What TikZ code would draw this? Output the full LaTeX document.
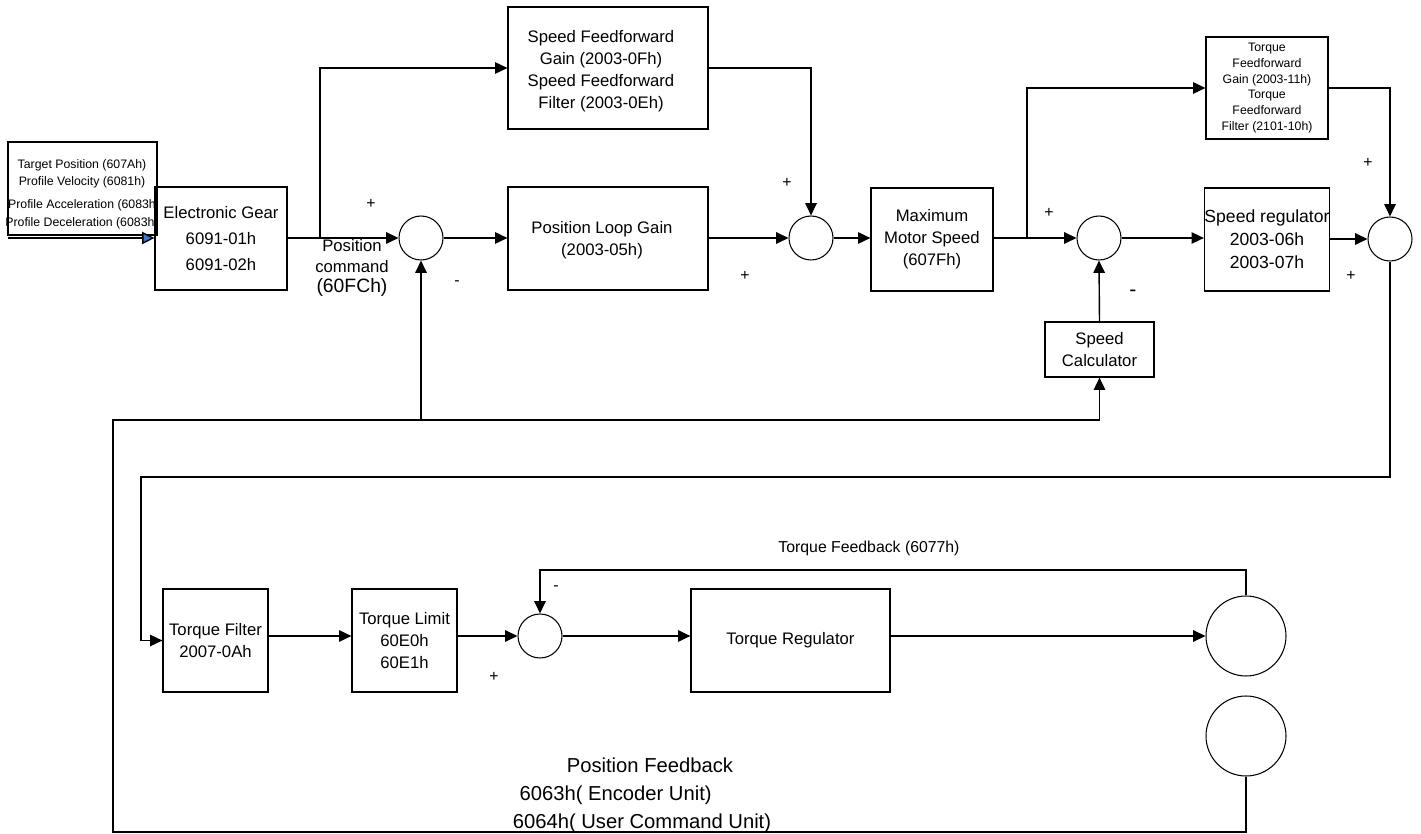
\documentclass[tikz,border=0pt]{standalone}
\usepackage{fontspec}
\setmainfont{Liberation Sans}
\usetikzlibrary{arrows.meta}

\definecolor{arrowblue}{RGB}{68,114,196}

\tikzset{
  box/.style={draw, line width=0.7pt, align=center, inner sep=0pt,
              font=\fontsize{9.5}{12.5}\selectfont},
  boxtext/.style={align=center, inner sep=0pt, font=\fontsize{9.5}{12.5}\selectfont},
  sumnode/.style={draw, circle, line width=0.6pt, inner sep=0pt, minimum size=0.88cm},
  motor/.style={draw, circle, line width=0.6pt, inner sep=0pt, minimum size=1.6cm},
  sig/.style={line width=0.8pt},
  arr/.style={sig, -{Triangle[length=7pt,width=6.5pt]}},
  sgn/.style={font=\fontsize{9}{10}\selectfont, inner sep=0pt},
  smalltext/.style={align=center, inner sep=0pt, font=\fontsize{7}{10}\selectfont}
}

\begin{document}
\begin{tikzpicture}[x=0.02cm, y=-0.02cm]
\useasboundingbox (0,0) rectangle (1421,834);

% upper row
\node[draw, line width=0.7pt, minimum width=2.98cm, minimum height=1.86cm] (inbox) at (82.5,188.5) {};
\node[smalltext] at (82,194) {Target Position (607Ah)\\Profile Velocity (6081h)\\[3pt]Profile Acceleration (6083h\\Profile Deceleration (6083h)};
\node[box, minimum width=2.64cm, minimum height=2.06cm, font=\fontsize{9.5}{14.7}\selectfont] (eg) at (221,238.5) {Electronic Gear\\6091-01h\\6091-02h};
\node[sumnode] (s1) at (421,238) {};
\node[box, minimum width=4cm, minimum height=2.44cm] (sff) at (608,68) {};
\node[boxtext] at (601,71) {Speed Feedforward\\Gain (2003-0Fh)\\Speed Feedforward\\Filter (2003-0Eh)};
\node[box, minimum width=4cm, minimum height=2.06cm] (plg) at (608,238.5) {};
\node[boxtext] at (602,240) {Position Loop Gain\\(2003-05h)};
\node[sumnode] (s2) at (811,238) {};
\node[box, minimum width=2.44cm, minimum height=2.06cm] (mms) at (932,239.5) {Maximum\\Motor Speed\\(607Fh)};
\node[sumnode] (s3) at (1099,238) {};
\node[box, minimum width=2.44cm, minimum height=2.04cm, font=\fontsize{7}{9}\selectfont] (tff) at (1267,88) {Torque\\Feedforward\\Gain (2003-11h)\\Torque\\Feedforward\\Filter (2101-10h)};
\node[box, minimum width=2.44cm, minimum height=2.06cm, font=\fontsize{10}{13}\selectfont] (sr) at (1267,239.5) {Speed regulator\\2003-06h\\2003-07h};
\node[sumnode] (s4) at (1390,239) {};
\node[box, minimum width=2.18cm, minimum height=1.1cm] (sc) at (1099.5,349.5) {Speed\\Calculator};

% lower row
\node[box, minimum width=2.1cm, minimum height=2.06cm] (tf) at (215.5,640.5) {Torque Filter\\2007-0Ah};
\node[box, minimum width=2.1cm, minimum height=2.06cm] (tl) at (404.5,640.5) {Torque Limit\\60E0h\\60E1h};
\node[sumnode] (s5) at (540,636) {};
\node[box, minimum width=3.98cm, minimum height=2.06cm] (tr) at (790.5,640.5) {Torque Regulator};
\node[motor] (m1) at (1246,636) {};
\node[motor] (m2) at (1246,736) {};

% corner points
\coordinate (in) at (8,238);
\coordinate (b1) at (320,238);
\coordinate (b2) at (1027,238);
\coordinate (c1) at (141,477);
\coordinate (tfb) at (540,570);
\coordinate (pf) at (113,832);
\coordinate (pf2) at (113,420);

% connectors
\draw[sig, -{Triangle[length=7pt,width=7pt,fill=arrowblue]}] (in) -- (in -| eg.west);
\draw[arr] (eg.east |- s1) -- (s1.west);
\draw[arr] (b1) |- (sff.west);
\draw[arr] (s1.east) -- (s1.east -| plg.west);
\draw[arr] (plg.east |- s2) -- (s2.west);
\draw[arr] (sff.east) -| (s2.north);
\draw[arr] (s2.east) -- (s2.east -| mms.west);
\draw[arr] (mms.east |- s3) -- (s3.west);
\draw[arr] (b2) |- (tff.west);
\draw[arr] (s3.east) -- (s3.east -| sr.west);
\draw[arr] (sr.east |- s4) -- (s4.west);
\draw[arr] (tff.east) -| (s4.north);
\draw[arr] (sc.north) -- (s3.south);
\draw[arr] (s4.south) |- (c1) |- (tf.west);
\draw[arr] (tf.east |- s5) -- (s5 -| tl.west);
\draw[arr] (tl.east |- s5) -- (s5.west);
\draw[arr] (s5.east) -- (s5.east -| tr.west);
\draw[arr] (tr.east |- m1) -- (m1.west);
\draw[arr] (m1.north) |- (tfb) -- (s5.north);
\draw[arr] (m2.south) |- (pf) -- (pf2) -| (sc.south);
\draw[arr] (s1.south |- pf2) -- (s1.south);

% signs
\node[sgn] at (371,204) {+};
\node[sgn] at (457,283) {-};
\node[sgn] at (787,183) {+};
\node[sgn] at (745,276) {+};
\node[sgn] at (1049,213) {+};
\node[sgn, font=\fontsize{12}{12}\selectfont] at (1133,293) {-};
\node[sgn] at (1368,163) {+};
\node[sgn] at (1351,276) {+};
\node[sgn] at (556,588) {-};
\node[sgn] at (494,677) {+};

% labels
\node[align=center, inner sep=0pt, font=\fontsize{9.5}{11.6}\selectfont] (pcmd) at (352,268) {Position\\command\\{\fontsize{11}{11.6}\selectfont(60FCh)}};
\node[inner sep=0pt, font=\fontsize{9}{10}\selectfont] (tfbl) at (869,548) {Torque Feedback (6077h)};
\node[align=center, inner sep=0pt, font=\fontsize{11.5}{16}\selectfont] (pfl) at (642,795) {\hspace*{9pt}Position Feedback\\\hspace*{-30pt}6063h( Encoder Unit)\\6064h( User Command Unit)};
\end{tikzpicture}
\end{document}
